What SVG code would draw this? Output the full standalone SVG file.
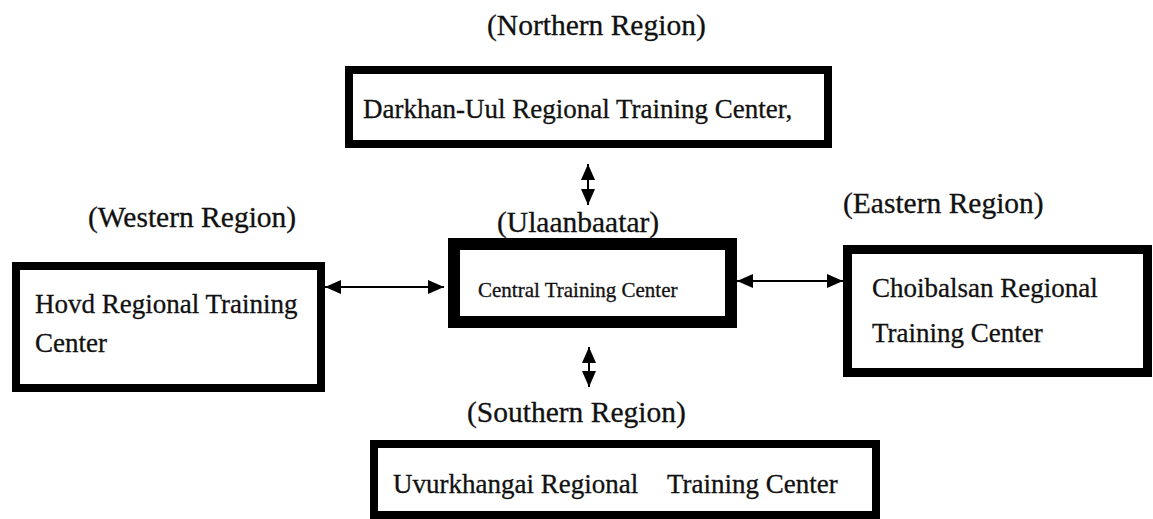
<svg xmlns="http://www.w3.org/2000/svg" width="1153" height="519" viewBox="0 0 1153 519">
  <style>
    .box { fill: #fff; stroke: #000; }
    .t { font-family: "Liberation Serif", "Times New Roman", serif; fill: #111; font-size: 27px; stroke: #111; stroke-width: 0.3px; }
    .lbl { font-family: "Liberation Serif", "Times New Roman", serif; fill: #111; font-size: 29.5px; stroke: #111; stroke-width: 0.3px; }
    .small { font-size: 21px; }
    .conn { stroke: #000; stroke-width: 2; fill: none; marker-start: url(#ah); marker-end: url(#ah); }
  </style>
  <defs>
    <marker id="ah" markerUnits="userSpaceOnUse" viewBox="0 0 16 14" refX="16" refY="7" markerWidth="16" markerHeight="14" orient="auto-start-reverse">
      <path d="M0,0 L16,7 L0,14 Z" fill="#000"/>
    </marker>
  </defs>
  <rect width="1153" height="519" fill="#fff"/>

  <g id="labels">
    <text class="lbl" x="487" y="35">(Northern Region)</text>
    <text class="lbl" x="88" y="227">(Western Region)</text>
    <text class="lbl" x="497" y="232">(Ulaanbaatar)</text>
    <text class="lbl" x="843" y="213">(Eastern Region)</text>
    <text class="lbl" x="467" y="422">(Southern Region)</text>
  </g>

  <g id="node-northern">
    <rect class="box" x="349" y="70" width="479" height="74" stroke-width="8"/>
    <text class="t" x="363" y="118">Darkhan-Uul Regional Training Center,</text>
  </g>

  <g id="node-central">
    <rect class="box" x="454" y="244" width="277" height="78" stroke-width="12"/>
    <text class="t small" x="478" y="297">Central Training Center</text>
  </g>

  <g id="node-western">
    <rect class="box" x="16" y="266" width="305" height="122" stroke-width="8"/>
    <text class="t" x="35" y="313">Hovd Regional Training</text>
    <text class="t" x="35" y="352">Center</text>
  </g>

  <g id="node-eastern">
    <rect class="box" x="847.5" y="249.5" width="300" height="123" stroke-width="9"/>
    <text class="t" x="872" y="297">Choibalsan Regional</text>
    <text class="t" x="872" y="342">Training Center</text>
  </g>

  <g id="node-southern">
    <rect class="box" x="374" y="444" width="502" height="71" stroke-width="8"/>
    <text class="t" x="393" y="493">Uvurkhangai Regional<tspan x="667">Training Center</tspan></text>
  </g>

  <g id="connectors">
    <line class="conn" x1="588" y1="164" x2="588" y2="205"/>
    <line class="conn" x1="325" y1="287" x2="444" y2="287"/>
    <line class="conn" x1="737" y1="281" x2="843" y2="281"/>
    <line class="conn" x1="589" y1="347" x2="589" y2="387"/>
  </g>
</svg>
